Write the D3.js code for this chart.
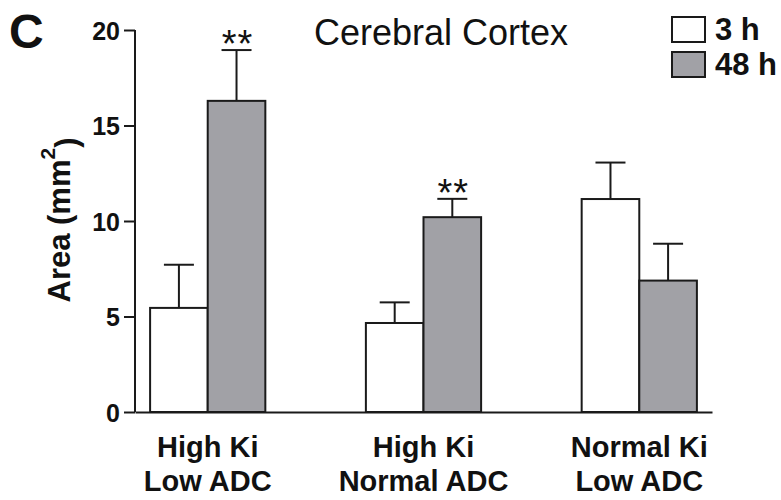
<!DOCTYPE html>
<html>
<head>
<meta charset="utf-8">
<script src="https://cdn.jsdelivr.net/npm/d3@7"></script>
<style>
    body { margin: 0; background: #fff; }
    text { font-family: "Liberation Sans", Arial, Helvetica, sans-serif; fill: #111; }
</style>
</head>
<body>
<script>
(function(){
    "use strict";

    // data
    const groups = ["High Ki|Low ADC", "High Ki|Normal ADC", "Normal Ki|Low ADC"];
    const series = ["3 h", "48 h"];
    const means3h = [5.45, 4.66, 11.15];
    const sem3h = [2.26, 1.08, 1.91];
    const means48h = [16.29, 10.2, 6.88];
    const sem48h = [2.66, 0.96, 1.93];
    const signif48h = ["**", "**", ""];
    const yTicks = [0, 5, 10, 15, 20];

    const colors = { "3 h": "#ffffff", "48 h": "#a1a1a6" };
    const stroke = "#1a1a1a";

    let width = 781;
    let height = 500;

    let svg = d3.select("body")
        .append("svg")
            .attr("width", width)
            .attr("height", height);

    let rows = [];
    groups.forEach((g, i) => {
        rows.push({group: g, series: "3 h", mean: means3h[i], sem: sem3h[i], star: ""});
        rows.push({group: g, series: "48 h", mean: means48h[i], sem: sem48h[i], star: signif48h[i]});
    });

    let yScale = d3.scaleLinear()
        .domain([0, 20])
        .range([412, 30]);

    let xScale = d3.scaleBand()
        .domain(groups)
        .range([135, 712])
        .paddingInner(0.466)
        .paddingOuter(0.07);

    let xInner = d3.scaleBand()
        .domain(series)
        .range([0, xScale.bandwidth()]);

    drawAxes();
    drawBars();
    drawLabels();

    function drawAxes() {
        let yAxis = d3.axisLeft(yScale)
            .tickValues(yTicks)
            .tickSize(11)
            .tickSizeOuter(0)
            .tickPadding(4);

        let gy = svg.append("g")
            .attr("transform", "translate(135,0)")
            .call(yAxis);
        gy.selectAll("path, line").attr("stroke", stroke).attr("stroke-width", 2);
        gy.selectAll("text")
            .style("font-size", "25px")
            .style("font-weight", "bold")
            .attr("dy", "0.36em");
        gy.select(".domain").attr("d", "M0," + yScale(20) + "V" + yScale(0));

        let xAxis = d3.axisBottom(xScale)
            .tickSize(0)
            .tickSizeOuter(0)
            .tickFormat("");

        let gx = svg.append("g")
            .attr("transform", "translate(0," + yScale(0) + ")")
            .call(xAxis);
        gx.select(".domain").attr("stroke", stroke).attr("stroke-width", 2);

        gx.selectAll(".tick text").each(function(d) {
            let t = d3.select(this)
                .attr("y", 0)
                .attr("dy", null)
                .style("font-size", "29px")
                .style("font-weight", "bold");
            d.split("|").forEach((line, k) => {
                t.append("tspan")
                    .attr("x", 0)
                    .attr("y", 45 + k * 34)
                    .text(line);
            });
        });
    }

    function drawBars() {
        let g = svg.append("g");

        // error bars first so the bar outline sits on top
        let err = g.selectAll(".err")
            .data(rows)
            .enter()
            .append("g")
                .attr("class", "err")
                .attr("transform", (d) => "translate(" + (xScale(d.group) + xInner(d.series) + xInner.bandwidth() / 2) + ",0)");

        err.append("line")
            .attr("x1", 0).attr("x2", 0)
            .attr("y1", (d) => yScale(d.mean))
            .attr("y2", (d) => yScale(d.mean + d.sem))
            .attr("stroke", stroke)
            .attr("stroke-width", 2);

        err.append("line")
            .attr("x1", -15).attr("x2", 15)
            .attr("y1", (d) => yScale(d.mean + d.sem))
            .attr("y2", (d) => yScale(d.mean + d.sem))
            .attr("stroke", stroke)
            .attr("stroke-width", 2);

        err.append("text")
            .attr("x", 1)
            .attr("y", (d) => yScale(d.mean + d.sem) + 7)
            .attr("text-anchor", "middle")
            .style("font-size", "38px")
            .style("letter-spacing", "1px")
            .text((d) => d.star);

        g.selectAll(".bar")
            .data(rows)
            .enter()
            .append("rect")
                .attr("class", "bar")
                .attr("x", (d) => xScale(d.group) + xInner(d.series))
                .attr("y", (d) => yScale(d.mean))
                .attr("width", xInner.bandwidth())
                .attr("height", (d) => yScale(0) - yScale(d.mean))
                .attr("fill", (d) => colors[d.series])
                .attr("stroke", stroke)
                .attr("stroke-width", 2);
    }

    function drawLabels() {
        svg.append("text")
            .attr("x", 9)
            .attr("y", 48)
            .style("font-size", "48px")
            .style("font-weight", "bold")
            .text("C");

        svg.append("text")
            .attr("x", 441)
            .attr("y", 45)
            .attr("text-anchor", "middle")
            .style("font-size", "36px")
            .text("Cerebral Cortex");

        let yTitle = svg.append("text")
            .attr("transform", "translate(70," + 220 + ") rotate(-90)")
            .attr("text-anchor", "middle")
            .style("font-size", "31px")
            .style("font-weight", "bold");
        yTitle.append("tspan").text("Area (mm");
        yTitle.append("tspan").attr("dy", "-0.7em").style("font-size", "21px").text("2");
        yTitle.append("tspan").attr("dy", "0.7em").text(")");

        let legend = svg.append("g")
            .selectAll("g")
            .data(series)
            .enter()
            .append("g")
                .attr("transform", (d, i) => "translate(672," + (17 + i * 35) + ")");

        legend.append("rect")
            .attr("width", 33)
            .attr("height", 25)
            .attr("fill", (d) => colors[d])
            .attr("stroke", stroke)
            .attr("stroke-width", 2);

        legend.append("text")
            .attr("x", 43)
            .attr("y", 23)
            .style("font-size", "31px")
            .style("font-weight", "bold")
            .text((d) => d);
    }
})();
</script>
</body>
</html>
